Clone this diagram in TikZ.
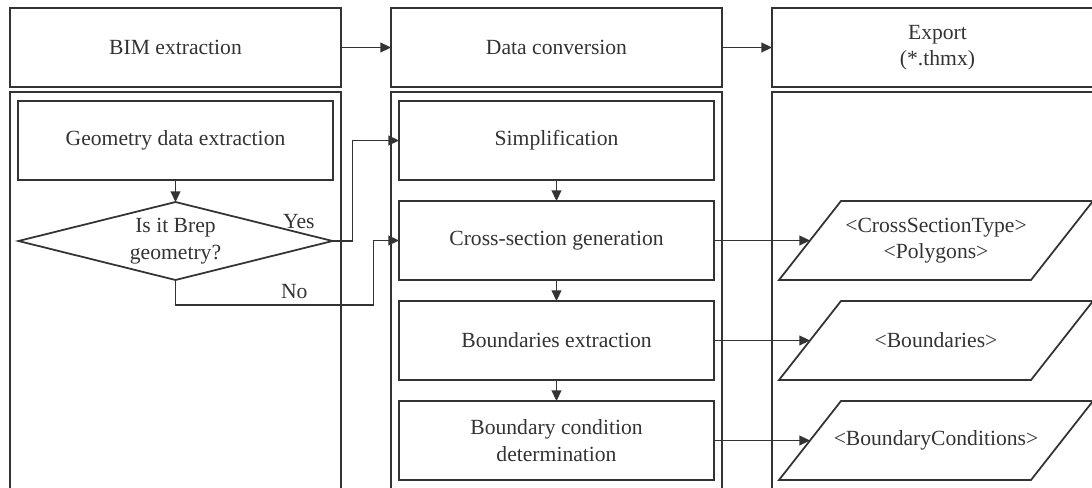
\documentclass[tikz,border=0pt]{standalone}
\usepackage{fontspec}
\setmainfont{Liberation Serif}
\usetikzlibrary{positioning}
\usetikzlibrary{shapes.geometric}
\usetikzlibrary{arrows.meta}

\definecolor{linegray}{HTML}{333333}

\begin{document}
\begin{tikzpicture}[outer sep=0, line width=1pt, color=linegray,
    font=\fontsize{12.3}{15}\selectfont,
    head/.style={draw, rectangle, minimum height=1.58cm, minimum width=6.62cm, align=center},
    lane/.style={draw, rectangle, minimum height=8.4cm, minimum width=6.62cm},
    stepbox/.style={draw, rectangle, minimum height=1.58cm, minimum width=6.3cm, align=center},
    decision/.style={draw, diamond, aspect=4, inner sep=0pt, minimum height=1.56cm, minimum width=6.28cm, align=center},
    datafile/.style={rectangle, minimum height=1.58cm, minimum width=5.04cm, align=center},
    arr/.style={-{Triangle[length=6pt,width=5.5pt]}}]
        \useasboundingbox (0,0) rectangle (21.84,-9.76);
        \clip (0,0) rectangle (21.84,-9.76);
        % header row
        \node [head] (bim) at (3.51,-0.95) {BIM extraction};
        \node [head, right=1cm of bim] (conv) {Data conversion};
        \node [head, right=1cm of conv] (export) {Export\\(*.thmx)};
        \draw[arr] (bim) -- (conv);
        \draw[arr] (conv) -- (export);
        % lanes
        \node [lane, below=0.1cm of bim] (bimlane) {};
        \node [lane, below=0.1cm of conv] (convlane) {};
        \node [lane, below=0.1cm of export] (exportlane) {};
        % BIM extraction lane
        \node [stepbox, below=0.18cm of bimlane.north] (geom) {Geometry data extraction};
        \node [decision, below=0.44cm of geom] (brep) {Is it Brep\\geometry?};
        \draw[arr] (geom) -- (brep);
        % data conversion lane
        \node [stepbox, below=0.18cm of convlane.north] (simp) {Simplification};
        \node [stepbox, below=0.42cm of simp] (cross) {Cross-section generation};
        \node [stepbox, below=0.42cm of cross] (bound) {Boundaries extraction};
        \node [stepbox, below=0.42cm of bound] (bcond) {Boundary condition\\determination};
        \draw[arr] (simp) -- (cross);
        \draw[arr] (cross) -- (bound);
        \draw[arr] (bound) -- (bcond);
        % yes / no branches
        \draw[arr] (brep.east) -- ++(0.4,0) |- (simp.west);
        \node [above left=0.12cm and 0.24cm of brep.east] (yes) {Yes};
        \draw[arr] (brep.south) -- ++(0,-0.5) -- ++(3.96,0) node [pos=0.6, above] (no) {No} |- (cross.west);
        % exported data
        \node [datafile, right=1.92cm of cross] (secdata) {<CrossSectionType>\\<Polygons>};
        \node [datafile, right=1.92cm of bound] (bnddata) {<Boundaries>};
        \node [datafile, right=1.92cm of bcond] (bcdata) {<BoundaryConditions>};
        \foreach \f in {secdata, bnddata, bcdata}
            \draw ([xshift=-0.62cm]\f.south west) -- ([xshift=-0.62cm]\f.south east)
                -- ([xshift=0.62cm]\f.north east) -- ([xshift=0.62cm]\f.north west) -- cycle;
        \draw[arr] (cross) -- (secdata);
        \draw[arr] (bound) -- (bnddata);
        \draw[arr] (bcond) -- (bcdata);
    \end{tikzpicture}
\end{document}
